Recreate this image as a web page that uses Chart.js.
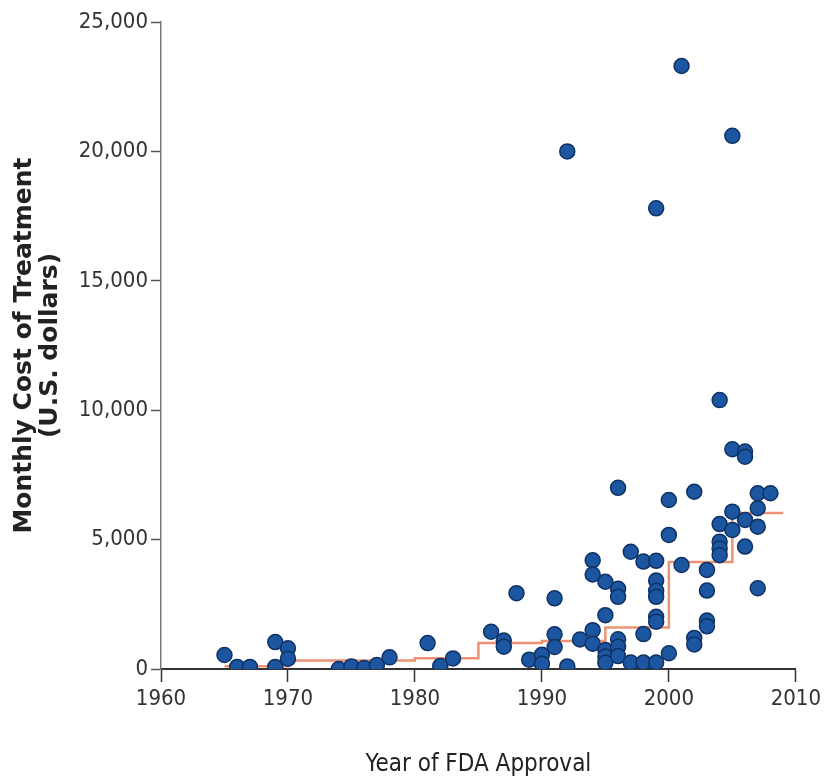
<!DOCTYPE html>
<html>
<head>
<meta charset="utf-8">
<script src="https://cdn.jsdelivr.net/npm/chart.js@4.4.1/dist/chart.umd.min.js"></script>
<style>
  html, body { margin: 0; padding: 0; background: #fff; }
</style>
</head>
<body>
<canvas id="costChart" width="825" height="782"></canvas>
<script>
// Each drug: year of FDA approval and monthly cost (USD)
const approvalYears = [
  1965, 1966, 1967, 1969, 1969, 1970, 1970,
  1974, 1975, 1976, 1977, 1978,
  1981, 1982, 1983,
  1986, 1987, 1987, 1988, 1989,
  1990, 1990, 1991, 1991, 1991, 1992, 1992, 1993,
  1994, 1994, 1994, 1994,
  1995, 1995, 1995, 1995, 1995,
  1996, 1996, 1996, 1996, 1996, 1996,
  1997, 1997, 1998, 1998, 1998,
  1999, 1999, 1999, 1999, 1999, 1999, 1999, 1999,
  2000, 2000, 2000, 2001, 2001,
  2002, 2002, 2002, 2003, 2003, 2003, 2003,
  2004, 2004, 2004, 2004, 2004,
  2005, 2005, 2005, 2005,
  2006, 2006, 2006, 2006,
  2007, 2007, 2007, 2007, 2008
];
const monthlyCosts = [
  540, 80, 80, 1040, 80, 800, 400,
  0, 100, 40, 150, 450,
  1000, 120, 410,
  1440, 1100, 860, 2930, 360,
  550, 200, 2730, 1340, 850, 20000, 100, 1140,
  4200, 3650, 1500, 980,
  3370, 2080, 730, 480, 240,
  7000, 3100, 2790, 1150, 860, 500,
  4530, 250, 4150, 1350, 250,
  17800, 4180, 3420, 3020, 2790, 2020, 1830, 250,
  6530, 5180, 610, 23300, 4020,
  6850, 1200, 950, 3830, 3030, 1870, 1650,
  10390, 5600, 4920, 4660, 4400,
  20600, 8490, 6080, 5370,
  8400, 8200, 5760, 4730,
  6790, 6210, 5500, 3120, 6790
];

// 5-year median cost (step line)
const medianYears = [1965, 1970, 1980, 1985, 1990, 1995, 2000, 2005, 2009];
const medianCosts = [110, 330, 420, 1000, 1080, 1600, 4130, 6030, 6030];

const xTicks = [1960, 1970, 1980, 1990, 2000, 2010];
const yTicks = [0, 5000, 10000, 15000, 20000, 25000];

const drugPoints = approvalYears.map((yr, i) => ({ x: yr, y: monthlyCosts[i] }));
const medianPoints = medianYears.map((yr, i) => ({ x: yr, y: medianCosts[i] }));

const condensed = "'DejaVu Sans Condensed', 'Liberation Sans', sans-serif";
const tickFont = { family: condensed, size: 22 };

const ctx = document.getElementById('costChart').getContext('2d');
const costChart = new Chart(ctx, {
  type: 'scatter',
  data: {
    datasets: [{
      label: 'Drugs',
      data: drugPoints,
      backgroundColor: '#1d56a0',
      borderColor: '#0f3264',
      borderWidth: 1.5,
      pointRadius: 7.5,
      order: 1
    }, {
      type: 'line',
      label: 'Median',
      data: medianPoints,
      stepped: 'before',
      borderColor: '#ee9275',
      borderWidth: 2.5,
      pointRadius: 0,
      fill: false,
      order: 2
    }]
  },
  options: {
    responsive: false,
    animation: false,
    layout: {
      padding: { top: 22, right: 24, left: 0, bottom: 0 }
    },
    plugins: {
      legend: { display: false },
      tooltip: { enabled: false }
    },
    scales: {
      x: {
        type: 'linear',
        min: 1960,
        max: 2010,
        afterBuildTicks: (scale) => { scale.ticks = xTicks.map(v => ({ value: v })); },
        afterFit: (scale) => { scale.height = 113; },
        border: { color: '#333', width: 2 },
        grid: { drawOnChartArea: false, tickLength: 13, color: '#333', tickWidth: 1.5 },
        ticks: {
          color: '#333',
          font: tickFont,
          padding: 4,
          maxRotation: 0,
          callback: (v) => String(v)
        },
        title: {
          display: true,
          text: 'Year of FDA Approval',
          color: '#222',
          font: { family: condensed, size: 24 },
          padding: { top: 0, bottom: 3 }
        }
      },
      y: {
        min: 0,
        max: 25000,
        afterBuildTicks: (scale) => { scale.ticks = yTicks.map(v => ({ value: v })); },
        afterFit: (scale) => { scale.width = 161; },
        border: { color: '#777', width: 1.5 },
        grid: { drawOnChartArea: false, tickLength: 10, color: '#555', tickWidth: 1.5 },
        ticks: {
          color: '#333',
          font: tickFont,
          padding: 3,
          callback: (v) => v.toLocaleString('en-US')
        },
        title: {
          display: true,
          text: ['Monthly Cost of Treatment', '(U.S. dollars)'],
          color: '#222',
          font: { family: "'DejaVu Sans', sans-serif", size: 25, weight: 'bold', lineHeight: 1.02 },
          padding: { top: 12, bottom: 0 }
        }
      }
    }
  }
});
</script>
</body>
</html>
